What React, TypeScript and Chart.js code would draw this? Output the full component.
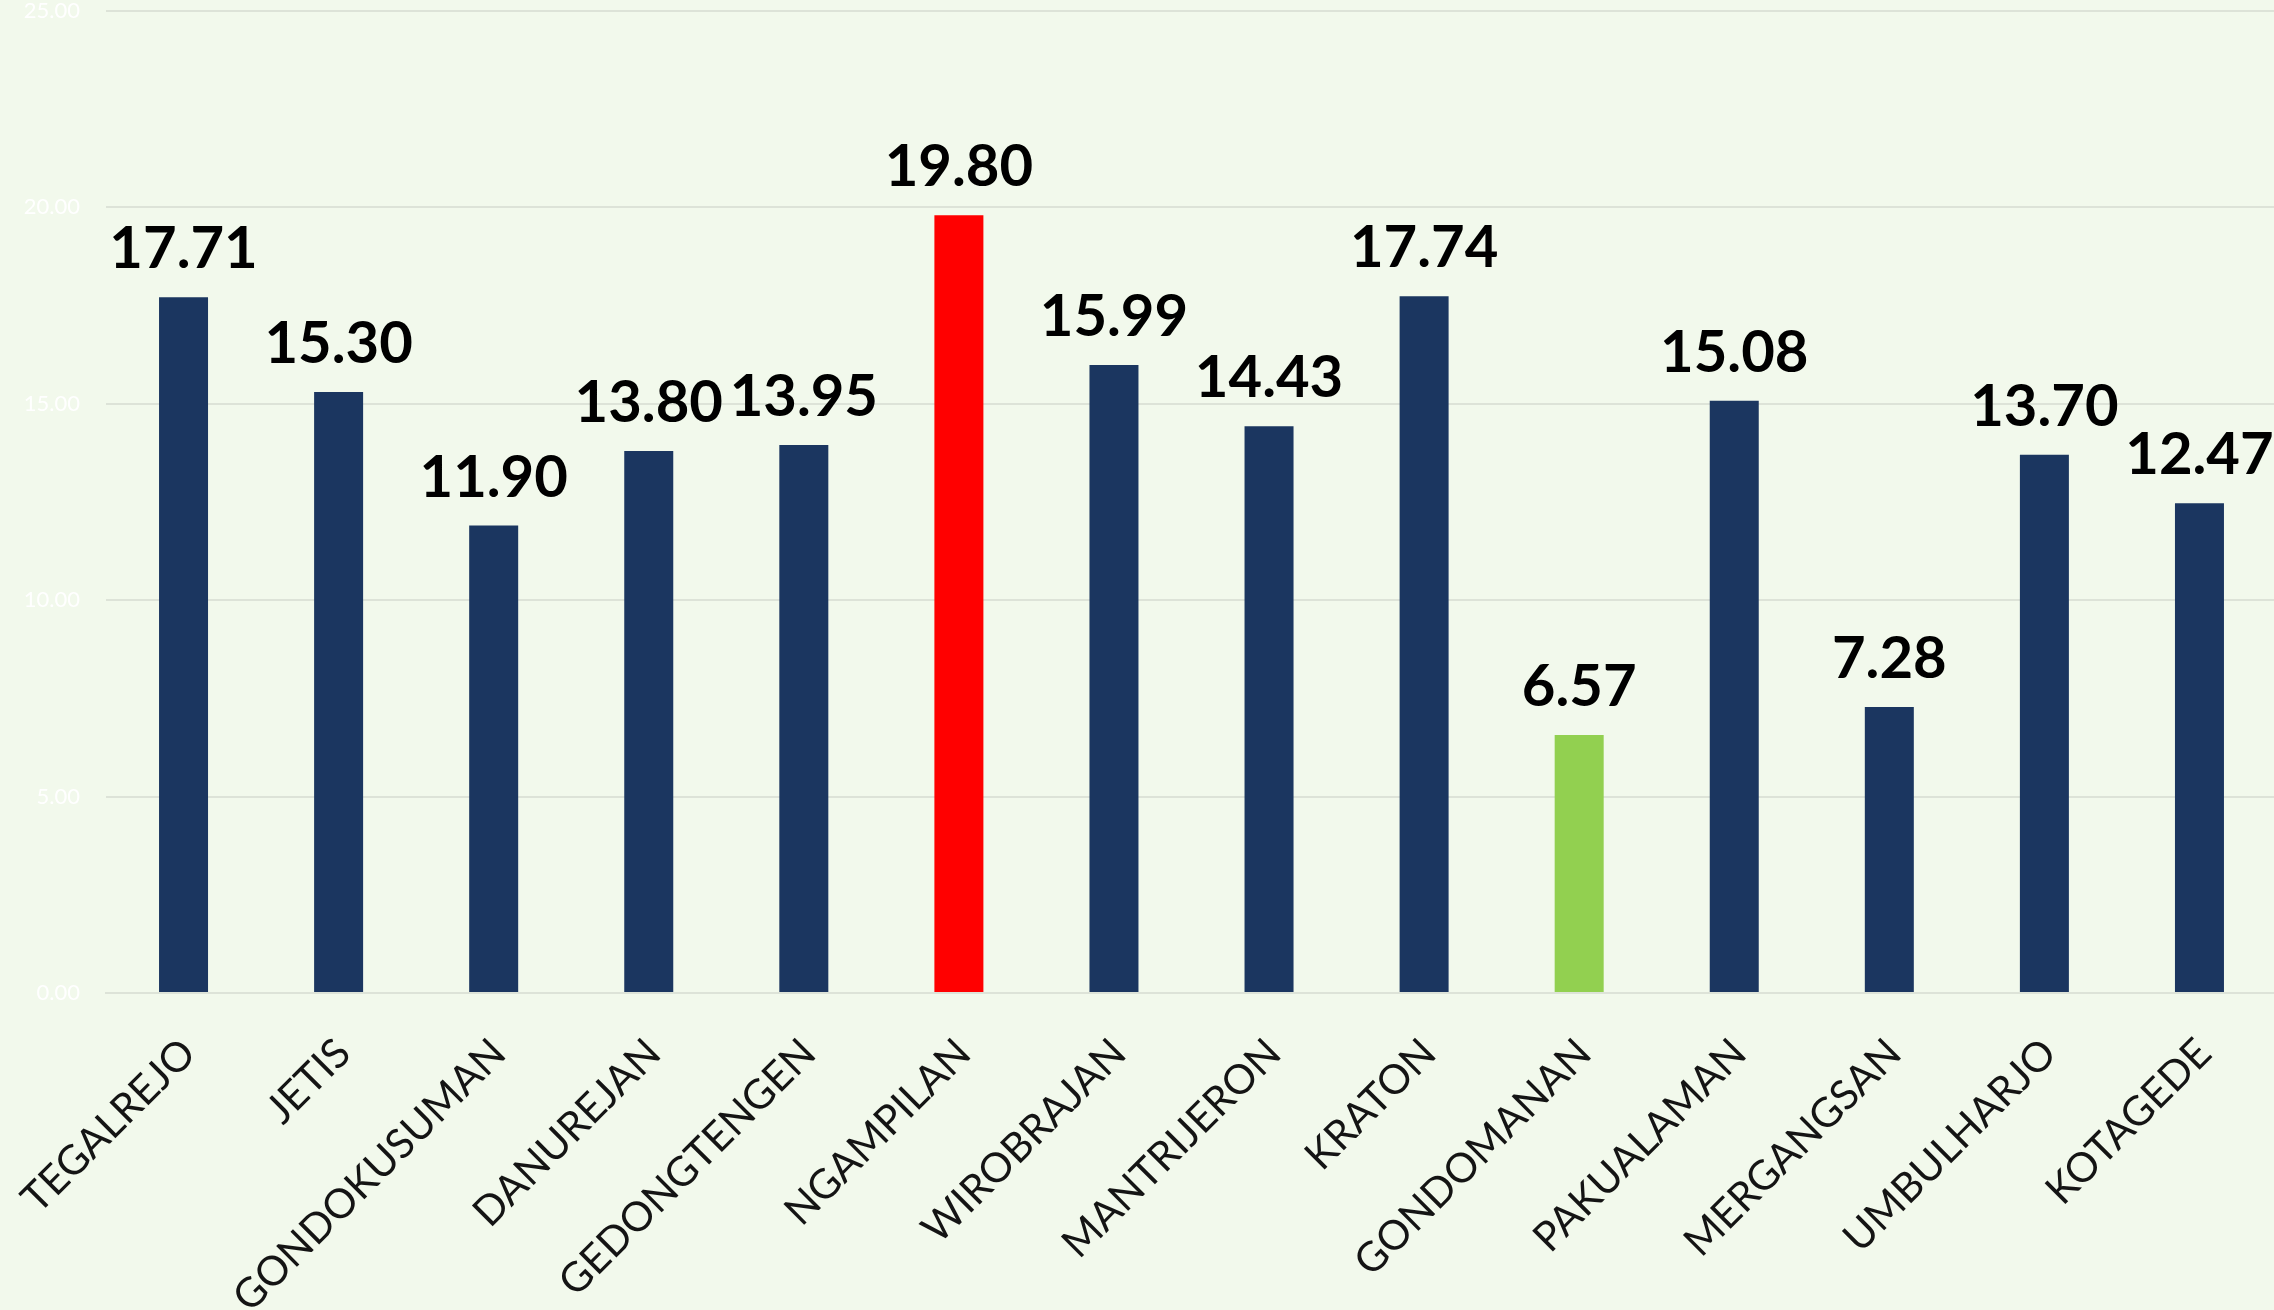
import React, { useEffect, useRef } from "react";
import { Chart, registerables } from "chart.js";

Chart.register(...registerables);

const categories = [
  "TEGALREJO",
  "JETIS",
  "GONDOKUSUMAN",
  "DANUREJAN",
  "GEDONGTENGEN",
  "NGAMPILAN",
  "WIROBRAJAN",
  "MANTRIJERON",
  "KRATON",
  "GONDOMANAN",
  "PAKUALAMAN",
  "MERGANGSAN",
  "UMBULHARJO",
  "KOTAGEDE",
];

const values = [17.71, 15.3, 11.9, 13.8, 13.95, 19.8, 15.99, 14.43, 17.74, 6.57, 15.08, 7.28, 13.7, 12.47];

const barColors = [
  "#1b3660", "#1b3660", "#1b3660", "#1b3660", "#1b3660",
  "#ff0000",
  "#1b3660", "#1b3660", "#1b3660",
  "#92d050",
  "#1b3660", "#1b3660", "#1b3660", "#1b3660",
];

const yTicks = [0, 5, 10, 15, 20, 25];

const BG = "#f2f9ec";

const valueLabelPlugin = {
  id: "valueLabels",
  afterDatasetsDraw(chart: any) {
    const ctx = chart.ctx;
    const meta = chart.getDatasetMeta(0);
    ctx.save();
    ctx.font = "bold 58px Lato";
    ctx.fillStyle = "#000000";
    ctx.textAlign = "center";
    ctx.textBaseline = "alphabetic";
    meta.data.forEach((el: any, i: number) => {
      ctx.fillText(values[i].toFixed(2), el.x, el.y - 29);
    });
    ctx.restore();
  },
};

const bgPlugin = {
  id: "bgFill",
  beforeDraw(chart: any) {
    const ctx = chart.ctx;
    ctx.save();
    ctx.fillStyle = BG;
    ctx.fillRect(0, 0, chart.width, chart.height);
    ctx.restore();
  },
};

export default function App() {
  const ref = useRef<HTMLCanvasElement | null>(null);

  useEffect(() => {
    if (!ref.current) return;
    const chart = new Chart(ref.current, {
      type: "bar",
      data: {
        labels: categories,
        datasets: [
          {
            data: values,
            backgroundColor: barColors,
            borderWidth: 0,
            barPercentage: 0.632,
            categoryPercentage: 0.5,
          },
        ],
      },
      options: {
        responsive: false,
        animation: false,
        layout: { padding: { top: 11, right: 0, left: 0, bottom: 0 } },
        plugins: {
          legend: { display: false },
          tooltip: { enabled: false },
        },
        scales: {
          x: {
            grid: { display: false, drawTicks: false },
            border: { display: true, color: "#dde3d8", width: 2 },
            ticks: {
              autoSkip: false,
              maxRotation: 45,
              minRotation: 45,
              padding: 36,
              labelOffset: 5,
              color: "#141414",
              font: { family: "Lato", size: 41 },
            },
            afterFit: (scale: any) => {
              scale.height = 1310 - 993;
              scale.paddingLeft = 0;
              scale.paddingRight = 0;
            },
          },
          y: {
            min: 0,
            max: 25,
            afterBuildTicks: (scale: any) => {
              scale.ticks = yTicks.map((v) => ({ value: v }));
            },
            grid: { color: "#dde3d8", lineWidth: 2, drawTicks: false },
            border: { display: false },
            ticks: {
              color: "#ffffff",
              padding: 26,
              font: { family: "Lato", size: 22 },
              callback: (v: any) => Number(v).toFixed(2),
            },
            afterFit: (scale: any) => {
              scale.width = 106;
              scale.paddingTop = 0;
              scale.paddingBottom = 0;
            },
          },
        },
      },
      plugins: [bgPlugin, valueLabelPlugin],
    });
    return () => chart.destroy();
  }, []);

  return (
    <div
      style={{
        position: "absolute",
        left: 0,
        top: 0,
        width: 2274,
        height: 1310,
        overflow: "hidden",
        background: BG,
      }}
    >
      <canvas ref={ref} width={2277} height={1310} style={{ display: "block" }} />
    </div>
  );
}
